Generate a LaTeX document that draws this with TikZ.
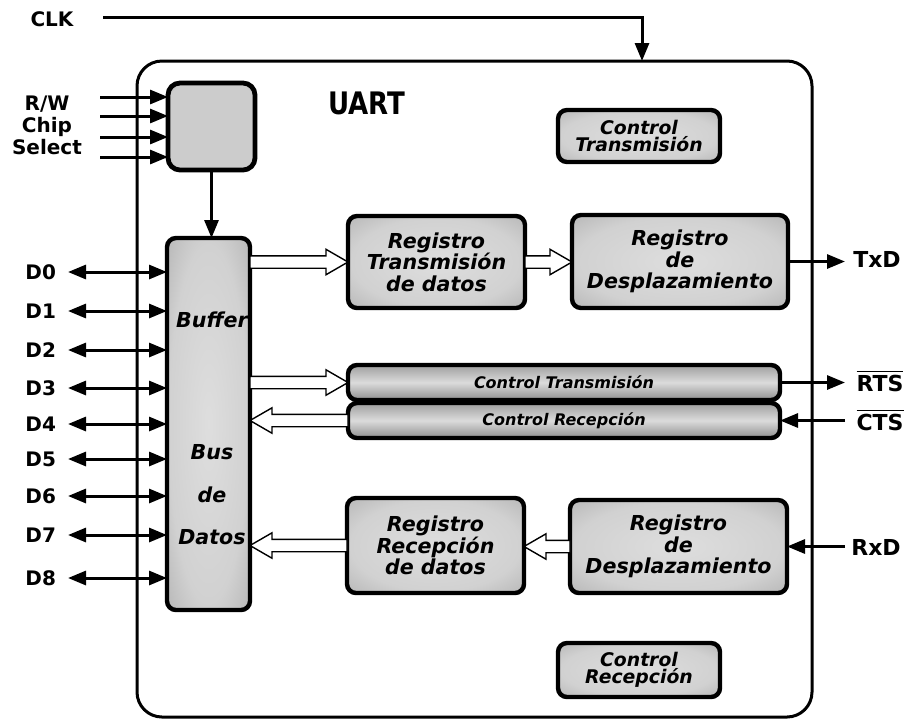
\documentclass[tikz,border=0pt]{standalone}
\usepackage{fontspec}
\usepackage{graphicx}
\setmainfont{DejaVu Sans}
\usetikzlibrary{arrows.meta,shapes.arrows,calc}

\definecolor{boxlight}{gray}{0.87}
\definecolor{boxlight2}{gray}{0.82}
\definecolor{boxmid}{gray}{0.68}
\definecolor{boxdark}{gray}{0.54}
\definecolor{sqlight}{gray}{0.80}
\definecolor{sqmid}{gray}{0.52}
\definecolor{sqdark}{gray}{0.38}
\definecolor{barlight}{gray}{0.86}
\definecolor{bartop}{gray}{0.62}
\definecolor{barbot}{gray}{0.56}

% bevel-like shadings for the block fills (50bp maps to the block edge)
\pgfdeclareradialshading{bevel}{\pgfpoint{0bp}{0bp}}{color(0bp)=(boxlight); color(24bp)=(boxlight2); color(40bp)=(boxmid); color(50bp)=(boxdark)}
\pgfdeclareradialshading{sqbevel}{\pgfpoint{0bp}{0bp}}{color(0bp)=(sqlight); color(30bp)=(sqlight); color(40bp)=(sqmid); color(50bp)=(sqdark)}

% hollow bus arrow from #1 to #2
\newcommand\busline[2]{%
  \path let \p1=(#1), \p2=(#2),
            \n1={veclen(\x2-\x1,\y2-\y1)},
            \n2={atan2(\y2-\y1,\x2-\x1)} in
    node[busarrow, minimum height=\n1, rotate=\n2, anchor=tail] at (\p1) {};%
}

\begin{document}
\begin{tikzpicture}[
  x=0.5pt, y=-0.5pt,
  frame/.style={draw, line width=1.5pt, rounded corners=12.5pt, inner sep=0pt, outer sep=0pt},
  block/.style={draw, line width=2.2pt, rounded corners=4.5pt, shading=bevel, inner sep=0pt, outer sep=0pt},
  sqblock/.style={draw, line width=2.4pt, rounded corners=6pt, shading=sqbevel, inner sep=0pt, outer sep=0pt},
  barblock/.style={draw, line width=2.2pt, rounded corners=4.5pt, top color=bartop, bottom color=barbot, middle color=barlight, inner sep=0pt, outer sep=0pt},
  regtext/.style={font=\bfseries\itshape\fontsize{10.3}{10.8}\selectfont, align=center, inner sep=0pt},
  bartext/.style={font=\bfseries\itshape\fontsize{8}{9}\selectfont, inner sep=0pt},
  smalltext/.style={font=\bfseries\itshape\fontsize{9.4}{8.4}\selectfont, align=center, inner sep=0pt},
  lbl/.style={font=\bfseries\fontsize{10}{11}\selectfont, inner sep=0pt},
  rlbl/.style={font=\bfseries\fontsize{11}{12}\selectfont, inner sep=0pt},
  sig/.style={line width=1.5pt, -{Triangle[length=9pt,width=7pt]}},
  bisig/.style={line width=1.5pt, {Triangle[length=9pt,width=7pt]}-{Triangle[length=9pt,width=7pt]}},
  busarrow/.style={single arrow, draw, fill=white, line width=0.7pt,
    inner xsep=0pt, inner ysep=2.75pt, outer sep=0pt,
    single arrow head extend=3.25pt, single arrow tip angle=60},
]
\useasboundingbox (0,0) rectangle (908,719);

% UART outline
\node[frame, minimum width=337.5pt, minimum height=328pt] (uart) at (474.5,389) {};
\node[font=\bfseries\fontsize{15.5}{16}\selectfont, inner sep=0pt] (uartlbl) at (367,103) {\scalebox{0.84}[1]{UART}};

% clock input
\node[lbl] (clk) at (52,19) {CLK};
\coordinate (clkin) at (103,17);
\coordinate (clkx) at (642,17);
\draw[sig] (clkin) -| (clkx |- uart.north);

% chip select block
\node[sqblock, minimum width=43.5pt, minimum height=43.5pt] (sq) at (211.5,126.5) {};
\node[lbl, align=center, font=\bfseries\fontsize{10}{11}\selectfont] (ctl) at (47,125) {R/W\\Chip\\Select};
\foreach \yy [count=\i] in {97,116,137,157} {
  \coordinate (in\i) at (100,\yy);
  \draw[sig] (in\i) -- (sq.west |- in\i);
}

% data bus buffer
\node[block, minimum width=41.5pt, minimum height=186pt] (buf) at (208.5,424) {};
\node[regtext] (bufA) at (212,320) {Buffer};
\node[regtext] (bufB) at (212,452) {Bus};
\node[regtext] (bufC) at (212,495) {de};
\node[regtext] (bufD) at (212,537) {Datos};
\draw[sig] (sq.south) -- (sq.south |- buf.north);

% data lines
\foreach \yy [count=\i from 0] in {272,311,350,388,424,459,496,535,578} {
  \node[lbl, anchor=west] (d\i) at (25,\yy) {D\i};
  \coordinate (dp\i) at (68,\yy);
  \draw[bisig] (dp\i) -- (buf.west |- dp\i);
}

% transmit path
\node[block, minimum width=88.5pt, minimum height=46pt] (rtd) at (436.5,262) {};
\node[regtext] at (rtd) {Registro\\Transmisión\\de datos};
\node[block, minimum width=108pt, minimum height=46.5pt] (rdt) at (680,261.5) {};
\node[regtext] at (rdt) {Registro\\de\\Desplazamiento};

% handshake control bars
\node[barblock, minimum width=216pt, minimum height=17.5pt] (ct) at (564,382.5) {};
\node[bartext] at (ct) {Control Transmisión};
\node[barblock, minimum width=216pt, minimum height=17.5pt] (cr) at (564,420.5) {};
\node[bartext] at (cr) {Control Recepción};

% receive path
\node[block, minimum width=88.5pt, minimum height=47.5pt] (rrd) at (435.5,545.5) {};
\node[regtext] at (rrd) {Registro\\Recepción\\de datos};
\node[block, minimum width=108.5pt, minimum height=46.5pt] (rdr) at (678.5,546.5) {};
\node[regtext] at (rdr) {Registro\\de\\Desplazamiento};

% control units
\node[block, minimum width=81pt, minimum height=26pt] (cts) at (639,136) {};
\node[smalltext] at (cts) {Control\\Transmisión};
\node[block, minimum width=81pt, minimum height=27pt] (crs) at (639,670) {};
\node[smalltext] at (crs) {Control\\Recepción};

% internal bus transfers
\busline{buf.east |- rtd.west}{rtd.west}
\busline{rtd.east}{rdt.west |- rtd.east}
\busline{buf.east |- ct.west}{ct.west}
\busline{cr.west}{buf.east |- cr.west}
\busline{rrd.west}{buf.east |- rrd.west}
\busline{rdr.west}{rrd.east |- rdr.west}

% serial and modem lines
\node[rlbl] (txd) at (877,259) {TxD};
\coordinate (txo) at (845,261.5);
\draw[sig] (rdt.east) -- (txo);

\node[rlbl] (rts) at (880,381) {$\overline{\hbox{\bfseries RTS}}$};
\coordinate (rtso) at (845,382.5);
\draw[sig] (ct.east) -- (rtso);

\node[rlbl] (cts2) at (880,420) {$\overline{\hbox{\bfseries CTS}}$};
\coordinate (ctsi) at (845,420.5);
\draw[sig] (ctsi) -- (cr.east);

\node[rlbl] (rxd) at (876,547) {RxD};
\coordinate (rxi) at (845,546.5);
\draw[sig] (rxi) -- (rdr.east);
\end{tikzpicture}
\end{document}
